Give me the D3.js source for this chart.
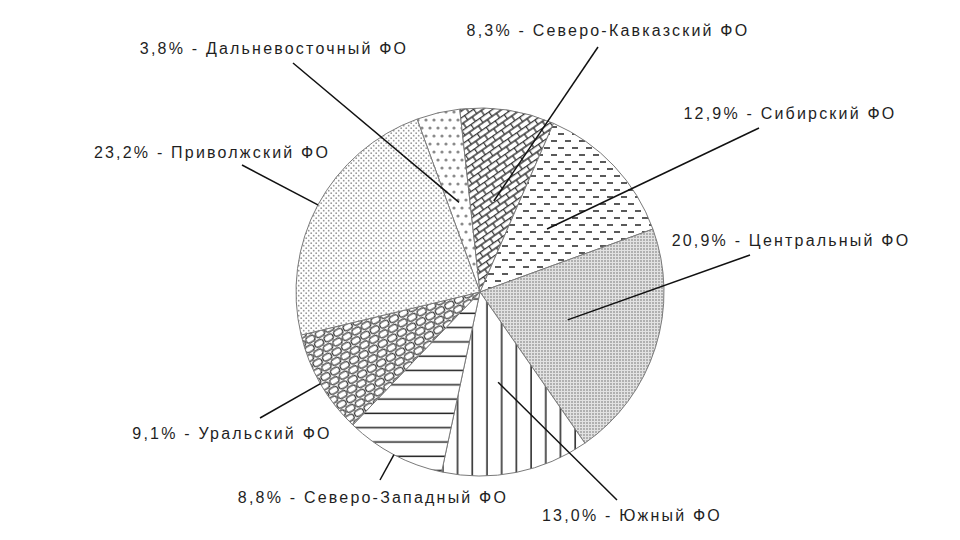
<!DOCTYPE html>
<html>
<head>
<meta charset="utf-8">
<script src="https://cdn.jsdelivr.net/npm/d3@7"></script>
<style>
  body { margin: 0; background: #fff; }
  text { font-family: "Liberation Sans", Arial, sans-serif; font-size: 16px; fill: #1f1f1f; }
</style>
</head>
<body>
<div id="chart"></div>
<script>
// data, clockwise from the top-left slice
const regions = ['Дальневосточный ФО', 'Северо-Кавказский ФО', 'Сибирский ФО', 'Центральный ФО',
  'Южный ФО', 'Северо-Западный ФО', 'Уральский ФО', 'Приволжский ФО']
const shares = [3.8, 8.3, 12.9, 20.9, 13.0, 8.8, 9.1, 23.2]
const shareLabels = ['3,8%', '8,3%', '12,9%', '20,9%', '13,0%', '8,8%', '9,1%', '23,2%']

// layout
const WIDTH = 960, HEIGHT = 540
const CX = 480, CY = 292, R = 184
const START = -20 * Math.PI / 180
const patternIds = ['p-hearts', 'p-brick', 'p-dash', 'p-fine', 'p-vert', 'p-horiz', 'p-shingle', 'p-dots']
// label centre, leader start (relative to label centre), leader end radius as part of R
const labelLayout = [
  { x: 273, y: 48, lx: 20, ly: 15, k: 0.5 },
  { x: 607, y: 30, lx: -9, ly: 17, k: 0.5 },
  { x: 789, y: 113, lx: -30, ly: 15, k: 0.5 },
  { x: 790, y: 240, lx: -40, ly: 15, k: 0.5 },
  { x: 631, y: 515, lx: -14, ly: -15, k: 0.5 },
  { x: 372, y: 497, lx: 8, ly: -17, k: 1 },
  { x: 231, y: 433, lx: 29, ly: -15, k: 1 },
  { x: 211, y: 152, lx: 31, ly: 13, k: 1 }
]

const svg = d3.select('#chart').append('svg')
  .attr('width', WIDTH)
  .attr('height', HEIGHT)

const defs = svg.append('defs')

function pattern(id, w, h, transform) {
  const p = defs.append('pattern')
    .attr('id', id)
    .attr('patternUnits', 'userSpaceOnUse')
    .attr('width', w)
    .attr('height', h)
  if (transform) p.attr('patternTransform', transform)
  p.append('rect').attr('width', w).attr('height', h).attr('fill', '#fff')
  return p
}

// large gray blobs
let p = pattern('p-hearts', 8, 16)
p.append('circle').attr('cx', 2).attr('cy', 4).attr('r', 1.6).attr('fill', '#8a8a8a')
p.append('circle').attr('cx', 6).attr('cy', 12).attr('r', 1.6).attr('fill', '#8a8a8a')

// diagonal brick
p = pattern('p-brick', 11, 11, 'rotate(-35)')
p.append('path')
  .attr('d', 'M0,0.5H11M0,6H11M0.5,0.5V6M6,6V11')
  .attr('stroke', '#333').attr('stroke-width', 1.4).attr('fill', 'none')

// dashed horizontal
p = pattern('p-dash', 14, 14)
p.append('rect').attr('x', 1).attr('y', 2).attr('width', 6).attr('height', 2).attr('fill', '#5a5a5a')
p.append('rect').attr('x', 8).attr('y', 9).attr('width', 6).attr('height', 2).attr('fill', '#5a5a5a')

// fine gray grid
p = pattern('p-fine', 3, 3)
p.select('rect').attr('fill', '#b0b0b0')
p.append('rect').attr('x', 0).attr('y', 0).attr('width', 3).attr('height', 1).attr('fill', '#e2e2e2')
p.append('rect').attr('x', 0).attr('y', 0).attr('width', 1).attr('height', 3).attr('fill', '#e2e2e2')

// vertical lines
p = pattern('p-vert', 14.7, 10)
p.append('line').attr('x1', 7).attr('x2', 7).attr('y1', 0).attr('y2', 10)
  .attr('stroke', '#222').attr('stroke-width', 1.5)

// horizontal lines
p = pattern('p-horiz', 10, 14.3)
p.append('line').attr('x1', 0).attr('x2', 10).attr('y1', 7).attr('y2', 7)
  .attr('stroke', '#222').attr('stroke-width', 1.5)

// shingle
p = pattern('p-shingle', 11, 16, 'rotate(-30)')
p.append('rect').attr('x', 0.8).attr('y', 0.8).attr('width', 9.4).attr('height', 6.4).attr('rx', 3)
p.append('rect').attr('x', 6.3).attr('y', 8.8).attr('width', 9.4).attr('height', 6.4).attr('rx', 3)
p.append('rect').attr('x', -4.7).attr('y', 8.8).attr('width', 9.4).attr('height', 6.4).attr('rx', 3)
p.selectAll('rect:not(:first-child)')
  .attr('fill', 'none').attr('stroke', '#333').attr('stroke-width', 1.2)

// small dots
p = pattern('p-dots', 5, 5)
p.append('circle').attr('cx', 1.2).attr('cy', 1.2).attr('r', 0.9).attr('fill', '#999')
p.append('circle').attr('cx', 3.7).attr('cy', 3.7).attr('r', 0.9).attr('fill', '#999')

const pie = d3.pie()
  .sort(null)
  .value(d => d)
  .startAngle(START)
  .endAngle(START + 2 * Math.PI)

const arcs = pie(shares)

const arc = d3.arc().innerRadius(0).outerRadius(R)

const g = svg.append('g')
  .attr('transform', `translate(${CX}, ${CY})`)

g.selectAll('path.slice')
  .data(arcs)
  .enter().append('path')
    .attr('class', 'slice')
    .attr('d', arc)
    .attr('fill', (d, i) => `url(#${patternIds[i]})`)
    .attr('stroke', '#7a7a7a')
    .attr('stroke-width', 1)

// leader lines
g.selectAll('line.leader')
  .data(arcs)
  .enter().append('line')
    .attr('class', 'leader')
    .attr('x1', (d, i) => labelLayout[i].x + labelLayout[i].lx - CX)
    .attr('y1', (d, i) => labelLayout[i].y + labelLayout[i].ly - CY)
    .attr('x2', (d, i) => {
      const a = (d.startAngle + d.endAngle) / 2
      return Math.sin(a) * R * labelLayout[i].k
    })
    .attr('y2', (d, i) => {
      const a = (d.startAngle + d.endAngle) / 2
      return -Math.cos(a) * R * labelLayout[i].k
    })
    .attr('stroke', '#111')
    .attr('stroke-width', 1.5)

// labels
svg.selectAll('text.label')
  .data(regions)
  .enter().append('text')
    .attr('class', 'label')
    .attr('x', (d, i) => labelLayout[i].x + 1)
    .attr('y', (d, i) => labelLayout[i].y)
    .attr('dy', '0.35em')
    .attr('text-anchor', 'middle')
    .attr('letter-spacing', '2.2px')
    .text((d, i) => `${shareLabels[i]} - ${d}`)
</script>
</body>
</html>
